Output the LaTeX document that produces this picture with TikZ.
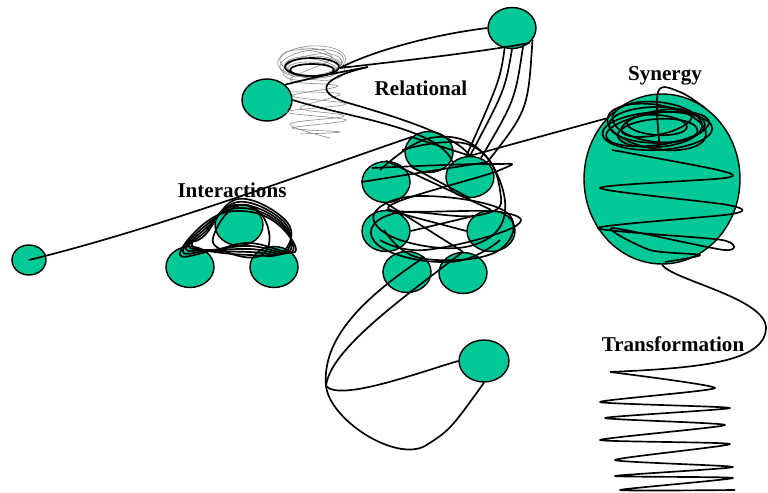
\documentclass[tikz,border=0pt]{standalone}
\usepackage{fontspec}
\setmainfont{Liberation Serif}
\usetikzlibrary{shapes.geometric, positioning}
\definecolor{blobteal}{HTML}{00C896}

\tikzset{
  blob/.style={ellipse, draw=black, thick, fill=blobteal, inner sep=0pt, minimum width=0.96cm, minimum height=0.82cm},
  lbl/.style={font=\bfseries\fontsize{12}{14}\selectfont},
  scrib/.style={black, line width=0.95pt, line join=round},
  faint/.style={gray!90, line width=0.35pt},
}

\begin{document}
\begin{tikzpicture}[x=0.02cm, y=-0.02cm]
\useasboundingbox (0,0) rectangle (768,493);
% nodes
\node[blob] (relTop) at (512,28) {};
\node[blob, minimum width=1cm, minimum height=0.84cm] (relLeft) at (267,100) {};
\node[blob] (clA) at (429,152) {};
\node[blob] (clB) at (386,182) {};
\node[blob] (clC) at (470,177) {};
\node[blob] (clD) at (386,231) {};
\node[blob] (clE) at (491,231) {};
\node[blob] (clF) at (407,272) {};
\node[blob] (clG) at (463,273) {};
\node[blob] (intTop) at (239,225) {};
\node[blob] (intLeft) at (190,267) {};
\node[blob] (intRight) at (274,267) {};
\node[blob, minimum width=0.68cm, minimum height=0.6cm] (farLeft) at (29,260) {};
\node[blob, minimum width=3.12cm, minimum height=3.4cm] (syn) at (662,179) {};
\node[blob, minimum width=1cm, minimum height=0.84cm] (lone) at (484,361) {};
\coordinate (bend) at (326,386);
% labels
\node[lbl] (relLbl) at (421,88) {Relational};
\node[lbl] (intLbl) at (232,190) {Interactions};
\node[lbl] (synLbl) at (665,76) {Synergy};
\node[lbl] (trfLbl) at (673,344) {Transformation};
% faint scribble
\foreach \a/\rx/\ry/\dy in {0/28/10/0, 8/32/13/-3, -7/26/9/2, 4/34/15/-5, -3/24/8/4, 12/30/12/1, -12/33/14/-1}
  \draw[faint, rotate around={\a:(312,66)}] (312,66+\dy) ellipse [x radius=\rx, y radius=\ry];
\draw[faint] plot[smooth, tension=0.6] coordinates {(300,48) (322,50) (330,60) (290,80) (338,86) (292,96) (346,104) (286,112) (346,120) (292,128) (340,132) (300,134)};
\draw[faint] plot[smooth, tension=0.6] coordinates {(284,92) (340,94) (300,108) (344,116) (290,124) (330,138)};
\draw[scrib] (312,67) ellipse [x radius=27, y radius=9];
\draw[scrib] (312,70) ellipse [x radius=22, y radius=6];
% relational connectors
\draw[scrib] (relTop.west) .. controls (430,35) and (370,52) .. (340,68) .. controls (410,60) and (480,52) .. (relTop.south east);
\draw[scrib] (relLeft.north east) .. controls (320,76) .. (368,67);
\draw[scrib] (368,67) .. controls (320,78) and (315,92) .. (345,102) .. controls (400,118) and (455,135) .. (clC.north);
\draw[scrib] (relLeft.east) .. controls (350,118) and (440,128) .. (clC.north west);
\draw[scrib] (relTop.south) .. controls (505,90) .. (clC.north);
\draw[scrib] (relTop.-60) .. controls (515,100) .. (clC.60);
\draw[scrib] (relTop.-110) .. controls (500,80) .. (clC.100);
\draw[scrib] (relTop.-30) .. controls (528,110) .. (clC.north east);
% long line
\draw[scrib] (farLeft.center) .. controls (160,228) and (320,168) .. (clA.north west) -- (clC.north) -- (syn.north west);
% interactions loops
\foreach \d in {0,3,6,-3,9} {
  \draw[scrib] plot[smooth cycle, tension=0.7] coordinates {(183+\d,252-\d) (205,226+\d) (238,208-\d) (278+\d,222) (292-\d,252) (250,246+\d) (212-\d,250)};
}
\draw[scrib] plot[smooth cycle, tension=0.8] coordinates {(215,232) (240,205) (266,222) (262,255) (222,250)};
% cluster tangle
\draw[scrib] plot[smooth, tension=0.7] coordinates {(380,170) (430,138) (482,152) (505,212) (470,246) (400,240) (374,214) (420,196) (506,212) (496,252) (420,258) (384,230)};
\draw[scrib] plot[smooth, tension=0.7] coordinates {(372,168) (490,164) (500,170) (388,208) (500,212) (512,228) (425,250) (380,240)};
\draw[scrib] plot[smooth, tension=0.8] coordinates {(402,150) (470,145) (500,190) (480,215) (392,214) (378,245) (450,262) (500,240)};
\draw[scrib] (clB.west) -- (clC.north east);
\draw[scrib] (clB.north) -- (clE.north);
\draw[scrib] (clD.north) -- (clE.west);
\draw[scrib] (clB.south) -- (clG.north);
\draw[scrib] (clD.east) -- (clE.north west);
\draw[scrib] (clA.south west) -- (clC.south);
% lower loop
\draw[scrib] (clF.north east) .. controls (360,300) and (322,340) .. (bend);
\draw[scrib] (clG.north) .. controls (400,300) and (330,350) .. (bend);
\draw[scrib] (bend) .. controls (340,402) and (420,372) .. (lone.west);
\draw[scrib] (bend) .. controls (330,420) and (395,462) .. (425,446) .. controls (450,430) .. (lone.south);
% synergy tangle
\foreach \a/\rx/\ry/\dy in {0/48/18/0, 8/52/16/4, -6/45/20/-3, 4/40/14/8, -10/50/22/2, 12/36/12/-2, 3/55/19/6, -4/30/10/0}
  \draw[scrib, rotate around={\a:(657,125)}] (657,125+\dy) ellipse [x radius=\rx, y radius=\ry];
\draw[scrib] plot[smooth, tension=0.6] coordinates {(660,150) (658,92) (680,92) (705,108)};
\draw[scrib] plot[smooth, tension=0.45] coordinates {(612,150) (718,170) (725,178) (600,188) (728,205) (732,214) (598,228) (722,240) (724,250) (612,228) (650,250) (700,255) (665,262)};
% to transformation
\draw[scrib] (syn.south) .. controls (672,280) and (766,298) .. (766,328) .. controls (765,362) and (700,368) .. (610,372);
\draw[scrib] plot[smooth, tension=0.35] coordinates {(610,372) (715,388) (600,402) (730,408) (605,418) (725,425) (600,440) (730,444) (615,460) (733,467) (615,476) (733,478) (620,490) (735,490)};
\end{tikzpicture}
\end{document}
